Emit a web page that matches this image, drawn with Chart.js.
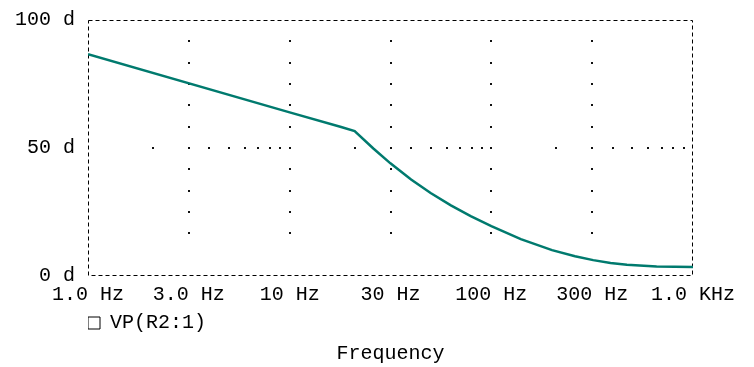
<!DOCTYPE html>
<html lang="en">
<head>
    <meta charset="UTF-8">
    <title>VP(R2:1) phase</title>
    <script src="https://cdn.jsdelivr.net/npm/chart.js"></script>
    <style>
        html, body {
            margin: 0;
            padding: 0;
            background: #ffffff;
        }
        .wrap {
            width: 754px;
            height: 367px;
        }
    </style>
</head>
<body>
    <div class="wrap">
        <canvas id="phaseChart" width="754" height="367"></canvas>
    </div>

    <script>
        // values (phase in degrees vs frequency in Hz)
        const freqHz = [1, 10, 18, 21, 26, 31.6, 40, 50, 63, 79, 100, 140, 200, 260, 320, 390, 470, 660, 1000];
        const phaseDeg = [86.6, 63.9, 58.2, 56.6, 49.8, 44.0, 37.7, 32.4, 27.6, 23.4, 19.5, 14.4, 10.1, 7.7, 6.2, 5.1, 4.4, 3.7, 3.5];

        const xTickValues = [1, 3.1623, 10, 31.623, 100, 316.23, 1000];
        const xTickLabels = ['1.0 Hz', '3.0 Hz', '10 Hz', '30 Hz', '100 Hz', '300 Hz', '1.0 KHz'];
        const yTickValues = [0, 50, 100];
        const yTickLabels = ['0 d', '50 d', '100 d'];
        const seriesName = 'VP(R2:1)';
        const axisTitle = 'Frequency';

        const lineColor = '#007a6e';
        const textFont = { family: '"Liberation Mono", "DejaVu Sans Mono", monospace', size: 20 };

        // dotted grid + dashed frame, like the simulator plot window
        const plotFrame = {
            id: 'plotFrame',
            beforeDatasetsDraw(chart) {
                const { ctx, chartArea: a, scales: { x, y } } = chart;
                ctx.save();
                ctx.fillStyle = '#111';
                const dot = (px, py) => ctx.fillRect(Math.round(px) - 1, Math.round(py) - 1, 2, 2);

                // vertical dotted lines on the inner ticks
                xTickValues.slice(1, -1).forEach(v => {
                    for (let k = 2; k <= 11; k++) {
                        dot(x.getPixelForValue(v), y.getPixelForValue(k * 100 / 12));
                    }
                });
                // horizontal dotted line at 50 with log-minor dots
                [1, 10, 100].forEach(dec => {
                    [2.1, 4, 5, 6, 7, 8, 9].forEach(m => dot(x.getPixelForValue(m * dec), y.getPixelForValue(50)));
                });

                ctx.strokeStyle = '#000';
                ctx.lineWidth = 1;
                ctx.setLineDash([4, 3]);
                ctx.strokeRect(a.left + 0.5, a.top + 0.5, a.width - 1, a.height - 1);
                ctx.restore();
            }
        };

        new Chart(document.getElementById('phaseChart'), {
            type: 'line',
            data: {
                datasets: [{
                    label: seriesName,
                    data: freqHz.map((f, i) => ({ x: f, y: phaseDeg[i] })),
                    borderColor: lineColor,
                    borderWidth: 2.5,
                    pointRadius: 0,
                    tension: 0,
                    fill: false
                }]
            },
            options: {
                responsive: false,
                animation: false,
                layout: { autoPadding: false, padding: { left: 0, right: 61, top: 20, bottom: 0 } },
                scales: {
                    x: {
                        type: 'logarithmic',
                        min: 1,
                        max: 1000,
                        grid: { display: false, drawTicks: false },
                        border: { display: false },
                        afterBuildTicks: scale => { scale.ticks = xTickValues.map(v => ({ value: v })); },
                        afterFit: scale => {
                            scale.height = 37;
                            scale.paddingLeft = scale.paddingRight = scale.paddingTop = scale.paddingBottom = 0;
                        },
                        ticks: {
                            autoSkip: false,
                            maxRotation: 0,
                            padding: 7,
                            color: '#000',
                            font: textFont,
                            callback: (value, index) => xTickLabels[index]
                        }
                    },
                    y: {
                        min: 0,
                        max: 100,
                        grid: { display: false, drawTicks: false },
                        border: { display: false },
                        afterBuildTicks: scale => { scale.ticks = yTickValues.map(v => ({ value: v })); },
                        afterFit: scale => {
                            scale.width = 88;
                            scale.paddingLeft = scale.paddingRight = scale.paddingTop = scale.paddingBottom = 0;
                        },
                        ticks: {
                            padding: 13,
                            color: '#000',
                            font: textFont,
                            callback: (value, index) => yTickLabels[index]
                        }
                    }
                },
                plugins: {
                    legend: {
                        position: 'bottom',
                        align: 'start',
                        fullSize: false,
                        labels: {
                            boxWidth: 12,
                            boxHeight: 12,
                            padding: 0,
                            color: '#000',
                            font: textFont,
                            generateLabels: () => [{
                                text: seriesName,
                                fillStyle: '#ffffff',
                                strokeStyle: '#000000',
                                lineWidth: 1,
                                datasetIndex: 0
                            }]
                        }
                    },
                    title: {
                        display: true,
                        position: 'bottom',
                        fullSize: false,
                        text: axisTitle,
                        color: '#000',
                        font: { ...textFont, weight: 'normal', lineHeight: 1 },
                        padding: { top: 1, bottom: 3 }
                    },
                    tooltip: { enabled: false }
                }
            },
            plugins: [plotFrame]
        });
    </script>
</body>
</html>
